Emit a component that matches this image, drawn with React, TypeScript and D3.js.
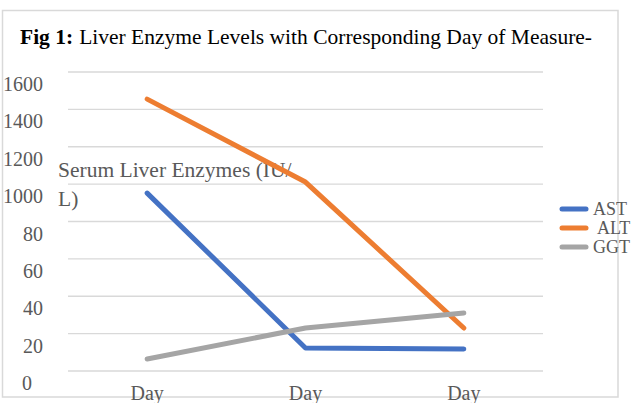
import React from "react";
import * as d3 from "d3";

const categories = ["Day", "Day", "Day"];
const astValues = [952, 123, 118];
const altValues = [1455, 1011, 230];
const ggtValues = [64, 230, 310];
const tickValues = [0, 200, 400, 600, 800, 1000, 1200, 1400, 1600];
const tickLabels = ["0", "20", "40", "60", "80", "1000", "1200", "1400", "1600"];
const seriesNames = ["AST", "ALT", "GGT"];
const seriesColors = ["#4472C4", "#ED7D31", "#A5A5A5"];

const W = 632;
const H = 403;
const FONT = "Liberation Serif, Times New Roman, serif";

export default function App() {
  const x = d3.scaleBand<number>().domain(d3.range(categories.length)).range([68, 543]);
  const y = d3.scaleLinear().domain([0, 1600]).range([371, 72]);
  const series = [astValues, altValues, ggtValues];
  const line = d3
    .line<number>()
    .x((_, i) => (x(i) as number) + x.bandwidth() / 2)
    .y((d) => y(d));

  return (
    <div style={{ position: "absolute", left: 0, top: 0 }}>
      <svg width={W} height={H} style={{ display: "block" }} fontFamily={FONT}>
        <rect x={0} y={0} width={W} height={H} fill="#fff" />
        <rect x={2.5} y={10.5} width={615.5} height={386.5} fill="none" stroke="#D9D9D9" strokeWidth={1.5} />
        <text x={20} y={44} fontSize={21.5} fill="#000">
          <tspan fontWeight="bold">Fig 1:</tspan>
          <tspan dx={6}>Liver Enzyme Levels with Corresponding Day of Measure-</tspan>
        </text>
        {tickValues.map((t) => (
          <line key={"g" + t} x1={68} x2={543} y1={y(t)} y2={y(t)} stroke="#D9D9D9" strokeWidth={1.3} />
        ))}
        {tickValues.map((t, i) => (
          <text
            key={"t" + t}
            x={tickLabels[i].length === 1 ? 22 : 43}
            y={y(t) + 19}
            textAnchor={tickLabels[i].length === 1 ? "start" : "end"}
            fontSize={20}
            fill="#595959"
          >
            {tickLabels[i]}
          </text>
        ))}
        <text x={58} y={177} fontSize={21.5} fill="#595959">
          Serum Liver Enzymes (IU/
        </text>
        <text x={58} y={206} fontSize={21.5} fill="#595959">
          L)
        </text>
        {series.map((s, k) => (
          <path
            key={"s" + k}
            d={line(s) || ""}
            fill="none"
            stroke={seriesColors[k]}
            strokeWidth={5}
            strokeLinecap="round"
            strokeLinejoin="round"
          />
        ))}
        {categories.map((c, i) => (
          <text
            key={"c" + i}
            x={(x(i) as number) + x.bandwidth() / 2}
            y={400}
            textAnchor="middle"
            fontSize={20}
            fill="#595959"
          >
            {c}
          </text>
        ))}
        {seriesNames.map((n, k) => (
          <g key={"l" + n}>
            <line
              x1={562}
              x2={586}
              y1={209 + k * 19}
              y2={209 + k * 19}
              stroke={seriesColors[k]}
              strokeWidth={5}
              strokeLinecap="round"
            />
            <text x={n === "ALT" ? 597 : 593} y={209 + k * 19 + 6} fontSize={18} fill="#595959">
              {n}
            </text>
          </g>
        ))}
      </svg>
    </div>
  );
}
